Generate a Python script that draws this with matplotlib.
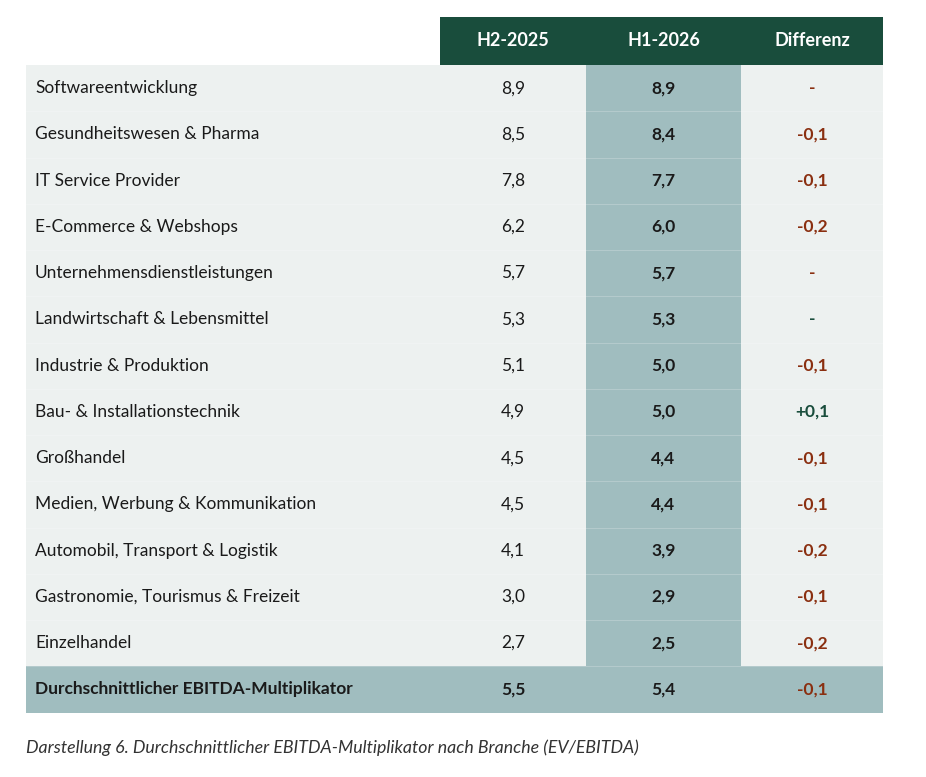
import matplotlib.pyplot as plt
from matplotlib.patches import Rectangle

plt.rcParams['font.family'] = ['Lato', 'DejaVu Sans']

# table data
branches = ['Softwareentwicklung', 'Gesundheitswesen & Pharma', 'IT Service Provider',
            'E-Commerce & Webshops', 'Unternehmensdienstleistungen',
            'Landwirtschaft & Lebensmittel', 'Industrie & Produktion',
            'Bau- & Installationstechnik', 'Großhandel',
            'Medien, Werbung & Kommunikation', 'Automobil, Transport & Logistik',
            'Gastronomie, Tourismus & Freizeit', 'Einzelhandel']
h2_2025 = ['8,9', '8,5', '7,8', '6,2', '5,7', '5,3', '5,1', '4,9', '4,5', '4,5', '4,1', '3,0', '2,7']
h1_2026 = ['8,9', '8,4', '7,7', '6,0', '5,7', '5,3', '5,0', '5,0', '4,4', '4,4', '3,9', '2,9', '2,5']
diff = ['-', '-0,1', '-0,1', '-0,2', '-', '-', '-0,1', '+0,1', '-0,1', '-0,1', '-0,2', '-0,1', '-0,2']
diff_up = [False, False, False, False, False, True, False, True, False, False, False, False, False]
headers = ['H2-2025', 'H1-2026', 'Differenz']
avg_label = 'Durchschnittlicher EBITDA-Multiplikator'
avg_values = ['5,5', '5,4', '-0,1']
caption = 'Darstellung 6. Durchschnittlicher EBITDA-Multiplikator nach Branche (EV/EBITDA)'

dark_green = '#194d3c'
light_bg = '#edf1f0'
teal = '#a0bdbf'
red = '#8a2f10'
txt = '#1a1a1a'
fs = 12.5

fig = plt.figure(figsize=(9.26, 7.77), dpi=100)
ax = fig.add_axes([0, 0, 1, 1])
ax.set_xlim(0, 926)
ax.set_ylim(777, 0)
ax.axis('off')

col_edges = [26, 440, 586, 741, 883]
col_centers = [(col_edges[i] + col_edges[i + 1]) / 2 for i in range(1, 4)]
head_top, head_bot = 17, 65
row_h = 46.25
n = len(branches) + 1

# header
ax.add_patch(Rectangle((col_edges[1], head_top), col_edges[4] - col_edges[1],
                       head_bot - head_top, color=dark_green, lw=0))
for c, h in zip(col_centers, headers):
    ax.text(c, (head_top + head_bot) / 2, h, color='white', fontsize=13,
            fontweight='bold', ha='center', va='center')

# body backgrounds
body_h = row_h * n
ax.add_patch(Rectangle((col_edges[0], head_bot), col_edges[4] - col_edges[0],
                       body_h, color=light_bg, lw=0))
ax.add_patch(Rectangle((col_edges[2], head_bot), col_edges[3] - col_edges[2],
                       body_h, color=teal, lw=0))
ax.add_patch(Rectangle((col_edges[0], head_bot + row_h * (n - 1)),
                       col_edges[4] - col_edges[0], row_h, color=teal, lw=0))

# faint row separators
for i in range(1, n):
    y = head_bot + row_h * i
    ax.plot([col_edges[0], col_edges[4]], [y, y], color='white', lw=0.5, alpha=0.3)

for i, name in enumerate(branches):
    yc = head_bot + row_h * (i + 0.5)
    ax.text(35, yc, name, color=txt, fontsize=fs, ha='left', va='center')
    ax.text(col_centers[0], yc, h2_2025[i], color=txt, fontsize=fs, ha='center', va='center')
    ax.text(col_centers[1], yc, h1_2026[i], color=txt, fontsize=fs, fontweight='bold',
            ha='center', va='center')
    ax.text(col_centers[2], yc, diff[i], color=dark_green if diff_up[i] else red,
            fontsize=fs, fontweight='bold', ha='center', va='center')

# average row
yc = head_bot + row_h * (n - 0.5)
ax.text(35, yc, avg_label, color=txt, fontsize=fs, fontweight='bold', ha='left', va='center')
ax.text(col_centers[0], yc, avg_values[0], color=txt, fontsize=fs, fontweight='bold',
        ha='center', va='center')
ax.text(col_centers[1], yc, avg_values[1], color=txt, fontsize=fs, fontweight='bold',
        ha='center', va='center')
ax.text(col_centers[2], yc, avg_values[2], color=red, fontsize=fs, fontweight='bold',
        ha='center', va='center')

ax.text(26, 748, caption, color='#333333', fontsize=12.8, style='italic',
        ha='left', va='center')

fig.savefig('out.png', dpi=100)
